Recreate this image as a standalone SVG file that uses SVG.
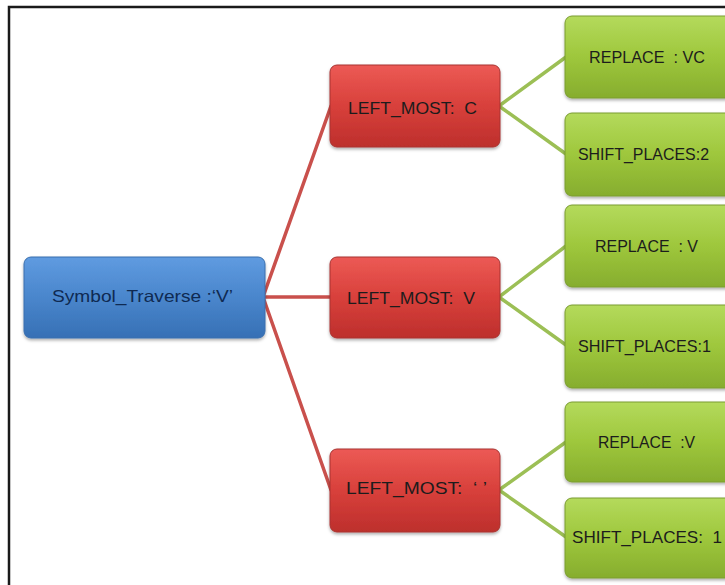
<svg xmlns="http://www.w3.org/2000/svg" width="725" height="585" viewBox="0 0 725 585">
<defs>
<linearGradient id="gBlue" x1="0" y1="0" x2="0" y2="1">
<stop offset="0" stop-color="#5f9be0"/><stop offset="0.5" stop-color="#4a86cc"/><stop offset="1" stop-color="#3670b5"/>
</linearGradient>
<linearGradient id="gRed" x1="0" y1="0" x2="0" y2="1">
<stop offset="0" stop-color="#ec5a55"/><stop offset="0.5" stop-color="#d8403b"/><stop offset="1" stop-color="#bd2f2c"/>
</linearGradient>
<linearGradient id="gGreen" x1="0" y1="0" x2="0" y2="1">
<stop offset="0" stop-color="#b4da5c"/><stop offset="0.5" stop-color="#9ec73c"/><stop offset="1" stop-color="#86ad2e"/>
</linearGradient>
<filter id="sh" x="-10%" y="-10%" width="120%" height="130%">
<feDropShadow dx="0" dy="2" stdDeviation="1.5" flood-color="#000" flood-opacity="0.3"/>
</filter>
</defs>
<style>
.frame{fill:none;stroke:#1a1a1a;stroke-width:2.5}
.blue{fill:url(#gBlue);stroke:#3a6fae;stroke-width:1;filter:url(#sh)}
.red{fill:url(#gRed);stroke:#a83330;stroke-width:1;filter:url(#sh)}
.green{fill:url(#gGreen);stroke:#7a9c30;stroke-width:1;filter:url(#sh)}
.t{font-family:"Liberation Sans","Open Sans",sans-serif;font-size:16.5px;fill:#1c1c1c}
.tb{fill:#0f2a52}
.rl{stroke:#c9504c;stroke-width:3.5;fill:none;stroke-linecap:round}
.gl{stroke:#9cbf55;stroke-width:3.5;fill:none;stroke-linecap:round}
</style>
<rect width="725" height="585" fill="#ffffff"/>
<rect class="frame" x="9" y="7" width="740" height="600"/>
<g id="connectors">
<line class="rl" x1="263" y1="297" x2="331" y2="106"/>
<line class="rl" x1="263" y1="297" x2="331" y2="297"/>
<line class="rl" x1="263" y1="297" x2="331" y2="490"/>
<line class="gl" x1="499" y1="106" x2="566" y2="57"/>
<line class="gl" x1="499" y1="106" x2="566" y2="154"/>
<line class="gl" x1="499" y1="297" x2="566" y2="246"/>
<line class="gl" x1="499" y1="297" x2="566" y2="345"/>
<line class="gl" x1="499" y1="490" x2="566" y2="442"/>
<line class="gl" x1="499" y1="490" x2="566" y2="537"/>
</g>
<g id="root">
<rect class="blue" x="24" y="257" width="241" height="81" rx="7"/>
<text class="t tb" x="52" y="302" textLength="181" lengthAdjust="spacingAndGlyphs">Symbol_Traverse :‘V’</text>
</g>
<g id="left1">
<rect class="red" x="330" y="65" width="170" height="82" rx="7"/>
<text class="t" x="348" y="114" textLength="129" lengthAdjust="spacingAndGlyphs" xml:space="preserve">LEFT_MOST:  C</text>
</g>
<g id="left2">
<rect class="red" x="330" y="257" width="170" height="81" rx="7"/>
<text class="t" x="347" y="304" textLength="128" lengthAdjust="spacingAndGlyphs" xml:space="preserve">LEFT_MOST:  V</text>
</g>
<g id="left3">
<rect class="red" x="330" y="449" width="170" height="83" rx="7"/>
<text class="t" x="346" y="494" textLength="141" lengthAdjust="spacingAndGlyphs" xml:space="preserve">LEFT_MOST:  ‘ ’</text>
</g>
<g id="replace1">
<rect class="green" x="565" y="16" width="180" height="82" rx="7"/>
<text class="t" x="589" y="63" textLength="116" lengthAdjust="spacingAndGlyphs" xml:space="preserve">REPLACE  : VC</text>
</g>
<g id="shift1">
<rect class="green" x="565" y="113" width="180" height="83" rx="7"/>
<text class="t" x="578" y="160" textLength="131" lengthAdjust="spacingAndGlyphs">SHIFT_PLACES:2</text>
</g>
<g id="replace2">
<rect class="green" x="565" y="205" width="180" height="82" rx="7"/>
<text class="t" x="595" y="252" textLength="103" lengthAdjust="spacingAndGlyphs" xml:space="preserve">REPLACE  : V</text>
</g>
<g id="shift2">
<rect class="green" x="565" y="305" width="180" height="83" rx="7"/>
<text class="t" x="578" y="352" textLength="133" lengthAdjust="spacingAndGlyphs">SHIFT_PLACES:1</text>
</g>
<g id="replace3">
<rect class="green" x="565" y="402" width="180" height="80" rx="7"/>
<text class="t" x="598" y="448" textLength="97" lengthAdjust="spacingAndGlyphs" xml:space="preserve">REPLACE  :V</text>
</g>
<g id="shift3">
<rect class="green" x="565" y="498" width="180" height="80" rx="7"/>
<text class="t" x="572" y="543" textLength="150" lengthAdjust="spacingAndGlyphs" xml:space="preserve">SHIFT_PLACES:  1</text>
</g>
</svg>
